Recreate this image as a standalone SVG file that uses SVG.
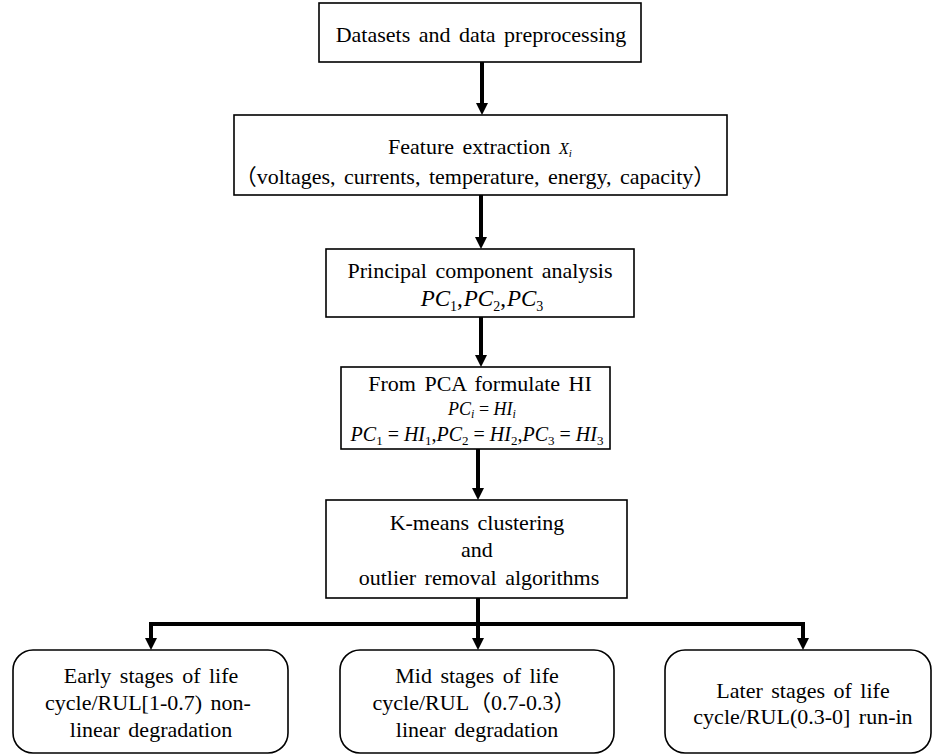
<svg xmlns="http://www.w3.org/2000/svg" width="933" height="755" viewBox="0 0 933 755">
<style>
.box{fill:#fff;stroke:#000;stroke-width:1.6}
.t{font-family:"Liberation Serif","Times New Roman","Noto Sans CJK SC",serif;font-size:22px;text-anchor:middle;word-spacing:3px;fill:#000}
.i{font-style:italic}
.sub{font-size:14px}
.con{fill:none;stroke:#000;stroke-width:4}
</style>
<defs>
<marker id="ah" markerUnits="userSpaceOnUse" markerWidth="12" markerHeight="12" refX="1" refY="6" orient="auto" viewBox="0 0 12 12">
<path d="M0,0 L12,6 L0,12 Z" fill="#000"/>
</marker>
</defs>
<rect width="933" height="755" fill="#fff"/>
<g id="connectors">
<path class="con" d="M482,62 V104" marker-end="url(#ah)"/>
<path class="con" d="M481,195 V238" marker-end="url(#ah)"/>
<path class="con" d="M481,317 V356" marker-end="url(#ah)"/>
<path class="con" d="M478,449 V489" marker-end="url(#ah)"/>
<path class="con" d="M478,598 V639" marker-end="url(#ah)"/>
<path class="con" d="M151,639 V624 H803 V639"/>
<path class="con" d="M151,630 V639" marker-end="url(#ah)"/>
<path class="con" d="M803,630 V639" marker-end="url(#ah)"/>
</g>
<g id="n1">
<rect class="box" x="319" y="3" width="322" height="59"/>
<text class="t" x="481" y="42">Datasets and data preprocessing</text>
</g>
<g id="n2">
<rect class="box" x="234" y="115" width="493" height="80"/>
<text class="t" x="480" y="154">Feature extraction <tspan class="i" style="font-size:16px">X</tspan><tspan class="i" style="font-size:11px" dy="3">i</tspan></text>
<text class="t" x="475" y="184">（voltages, currents, temperature, energy, capacity）</text>
</g>
<g id="n3">
<rect class="box" x="326" y="249" width="308" height="68"/>
<text class="t" x="480" y="278">Principal component analysis</text>
<text class="t" x="482" y="306" style="font-size:23px"><tspan class="i">PC</tspan><tspan class="sub" dy="5">1</tspan><tspan dy="-5">,</tspan><tspan class="i" dx="1">PC</tspan><tspan class="sub" dy="5">2</tspan><tspan dy="-5">,</tspan><tspan class="i" dx="1">PC</tspan><tspan class="sub" dy="5">3</tspan></text>
</g>
<g id="n4">
<rect class="box" x="341" y="367" width="269" height="82"/>
<text class="t" x="480" y="391">From PCA formulate HI</text>
<text class="t" x="482" y="415" style="font-size:18px;word-spacing:0"><tspan class="i">PC</tspan><tspan class="i" style="font-size:12px" dy="3">i</tspan><tspan dy="-3"> = </tspan><tspan class="i">HI</tspan><tspan class="i" style="font-size:12px" dy="3">i</tspan></text>
<text class="t" x="477" y="441" style="font-size:20px;word-spacing:0"><tspan class="i">PC</tspan><tspan style="font-size:13px" dy="4">1</tspan><tspan dy="-4"> = </tspan><tspan class="i">HI</tspan><tspan style="font-size:13px" dy="4">1</tspan><tspan dy="-4">,</tspan><tspan class="i">PC</tspan><tspan style="font-size:13px" dy="4">2</tspan><tspan dy="-4"> = </tspan><tspan class="i">HI</tspan><tspan style="font-size:13px" dy="4">2</tspan><tspan dy="-4">,</tspan><tspan class="i">PC</tspan><tspan style="font-size:13px" dy="4">3</tspan><tspan dy="-4"> = </tspan><tspan class="i">HI</tspan><tspan style="font-size:13px" dy="4">3</tspan></text>
</g>
<g id="n5">
<rect class="box" x="326" y="500" width="301" height="98"/>
<text class="t" x="477" y="530">K-means clustering</text>
<text class="t" x="477" y="557">and</text>
<text class="t" x="479" y="585">outlier removal algorithms</text>
</g>
<g id="n6">
<rect class="box" x="13" y="650" width="275" height="103" rx="20"/>
<text class="t" x="151" y="683">Early stages of life</text>
<text class="t" x="148" y="710">cycle/RUL[1-0.7) non-</text>
<text class="t" x="151" y="737">linear degradation</text>
</g>
<g id="n7">
<rect class="box" x="340" y="650" width="274" height="103" rx="20"/>
<text class="t" x="477" y="683">Mid stages of life</text>
<text class="t" x="474" y="710">cycle/RUL（0.7-0.3）</text>
<text class="t" x="477" y="737">linear degradation</text>
</g>
<g id="n8">
<rect class="box" x="665" y="650" width="266" height="103" rx="20"/>
<text class="t" x="803" y="698">Later stages of life</text>
<text class="t" x="803" y="724">cycle/RUL(0.3-0] run-in</text>
</g>
</svg>
